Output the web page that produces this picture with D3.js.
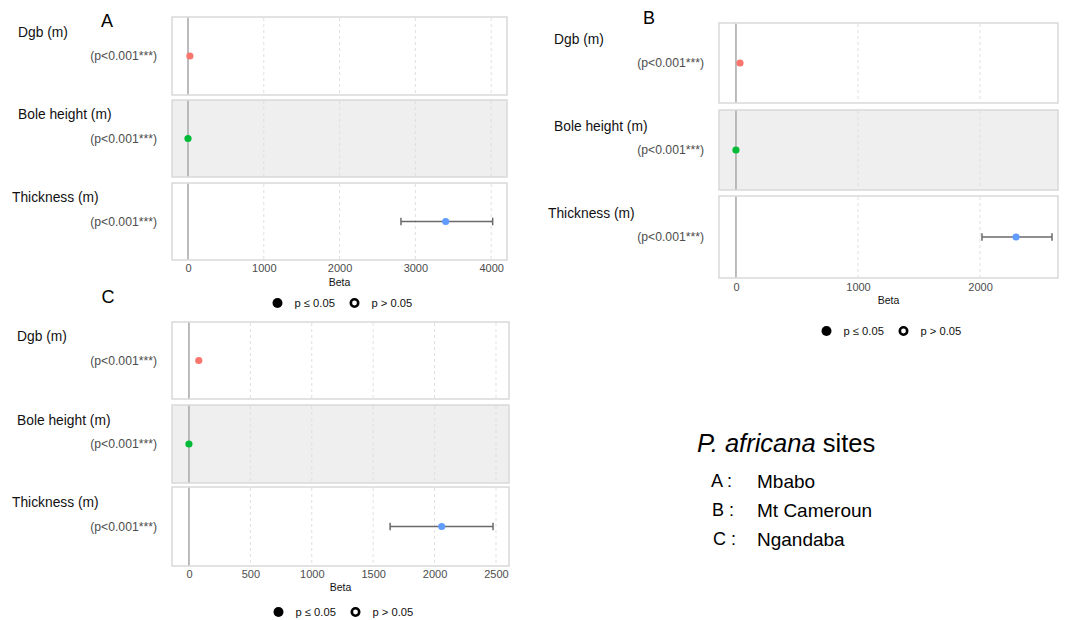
<!DOCTYPE html>
<html><head><meta charset="utf-8">
<script src="https://cdn.jsdelivr.net/npm/d3@7"></script>
<style>
body{margin:0;background:#fff;}
svg text{font-family:"Liberation Sans",Arial,sans-serif;}
</style></head><body>
<svg id="c" width="1072" height="620"></svg>
<script>
// ---- data ----
const sites = ["A", "B", "C"];
const siteNames = ["Mbabo", "Mt Cameroun", "Ngandaba"];
const variables = ["Dgb (m)", "Bole height (m)", "Thickness (m)"];
const pLabels = ["(p<0.001***)", "(p<0.001***)", "(p<0.001***)"];
const colors = ["#F8766D", "#00BA38", "#619CFF"];
// estimates and confidence limits per site
const betaA = [25, 0, 3400];
const lowA  = [15, -5, 2810];
const highA = [35, 5, 4020];
const betaB = [33, 0, 2295];
const lowB  = [20, -5, 2016];
const highB = [45, 5, 2590];
const betaC = [80, 0, 2058];
const lowC  = [66, -5, 1638];
const highC = [94, 5, 2476];
const ticksA = [0, 1000, 2000, 3000, 4000];
const ticksB = [0, 1000, 2000];
const ticksC = [0, 500, 1000, 1500, 2000, 2500];
const legendLabels = ["p \u2264 0.05", "p > 0.05"];

// ---- layout ----
const panels = [
  {site:0, beta:betaA, low:lowA, high:highA, ticks:ticksA, dom:[-211, 4209],
   x0:172, x1:507, strips:[[17,95],[100,177],[183,260]], labX:[18,18,12], tickY:268, betaY:282, legY:303, letter:[107,21]},
  {site:1, beta:betaB, low:lowB, high:highB, ticks:ticksB, dom:[-139, 2639],
   x0:719, x1:1058, strips:[[23,103],[110,190],[196,278]], labX:[554,554,548], tickY:287, betaY:300, legY:331, letter:[649,18]},
  {site:2, beta:betaC, low:lowC, high:highC, ticks:ticksC, dom:[-138, 2606],
   x0:172, x1:509, strips:[[322,399],[405,483],[487,566]], labX:[17,17,12], tickY:574, betaY:587, legY:612, letter:[108,297]}
];

const svg = d3.select("#c");

panels.forEach(p => {
  const g = svg.append("g");
  const x = d3.scaleLinear().domain(p.dom).range([p.x0, p.x1]);
  p.strips.forEach((s, i) => {
    const sg = g.append("g");
    sg.append("rect").attr("x", p.x0).attr("y", s[0]).attr("width", p.x1 - p.x0).attr("height", s[1] - s[0])
      .attr("fill", i === 1 ? "#efefef" : "#fff").attr("stroke", "#d9d9d9").attr("stroke-width", 1.5);
    // grid
    sg.selectAll("line.grid").data(p.ticks.filter(t => t !== 0)).join("line")
      .attr("x1", d => x(d)).attr("x2", d => x(d)).attr("y1", s[0] + 1).attr("y2", s[1] - 1)
      .attr("stroke", "#dcdcdc").attr("stroke-width", 0.9).attr("stroke-dasharray", "3,3");
    // zero line
    sg.append("line").attr("x1", x(0)).attr("x2", x(0)).attr("y1", s[0] + 0.7).attr("y2", s[1] - 0.7)
      .attr("stroke", "#b0b0b0").attr("stroke-width", 1.7);
    const cy = (s[0] + s[1]) / 2;
    // error bar
    const lo = p.low[i], hi = p.high[i];
    if (x(hi) - x(lo) > 6) {
      sg.append("line").attr("x1", x(lo)).attr("x2", x(hi)).attr("y1", cy).attr("y2", cy)
        .attr("stroke", "#6a6a6a").attr("stroke-width", 1.5);
      [lo, hi].forEach(v => sg.append("line").attr("x1", x(v)).attr("x2", x(v)).attr("y1", cy - 3.8).attr("y2", cy + 3.8)
        .attr("stroke", "#6a6a6a").attr("stroke-width", 1.5));
    }
    sg.append("circle").attr("cx", x(p.beta[i])).attr("cy", cy).attr("r", 3.6).attr("fill", colors[i]);
    // labels
    g.append("text").attr("x", p.labX[i]).attr("y", cy - 24).attr("dy", "0.35em")
      .attr("font-size", 13.8).attr("fill", "#111").text(variables[i]);
    g.append("text").attr("x", p.x0 - 15).attr("y", cy).attr("dy", "0.35em").attr("text-anchor", "end")
      .attr("font-size", 12.2).attr("fill", "#4d4d4d").text(pLabels[i]);
  });
  // axis
  const ax = g.append("g").attr("transform", `translate(0,${p.strips[2][1]})`)
    .call(d3.axisBottom(x).tickValues(p.ticks).tickSize(0).tickPadding(p.tickY - p.strips[2][1] - 4).tickFormat(d3.format("d")));
  ax.select(".domain").remove();
  ax.selectAll("text").attr("font-size", 11).attr("fill", "#4d4d4d").attr("font-family", "Liberation Sans, Arial, sans-serif");
  g.append("text").attr("x", (p.x0 + p.x1) / 2).attr("y", p.betaY).attr("dy", "0.35em").attr("text-anchor", "middle")
    .attr("font-size", 10.5).attr("fill", "#111").text("Beta");
  // legend
  const lc = (p.x0 + p.x1) / 2;
  const lx = [lc - 62, lc + 15];
  g.append("circle").attr("cx", lx[0]).attr("cy", p.legY).attr("r", 5).attr("fill", "#000");
  g.append("circle").attr("cx", lx[1]).attr("cy", p.legY).attr("r", 3.7).attr("fill", "#fff").attr("stroke", "#000").attr("stroke-width", 2.6);
  legendLabels.forEach((t, k) => g.append("text").attr("x", lx[k] + 17).attr("y", p.legY).attr("dy", "0.35em")
    .attr("font-size", 11.2).attr("fill", "#111").text(t));
  // letter
  g.append("text").attr("x", p.letter[0]).attr("y", p.letter[1]).attr("dy", "0.35em").attr("text-anchor", "middle")
    .attr("font-size", 18).attr("fill", "#000").text(sites[p.site]);
});

// site key
const key = svg.append("g");
const ttl = key.append("text").attr("x", 697).attr("y", 452).attr("font-size", 25.5).attr("fill", "#000");
ttl.append("tspan").attr("font-style", "italic").text("P. africana");
ttl.append("tspan").text(" sites");
const keyY = [481, 510, 539];
sites.forEach((s, i) => {
  key.append("text").attr("x", 711 + i).attr("y", keyY[i]).attr("dy", "0.35em").attr("font-size", 18).attr("fill", "#000").text(s + " :");
  key.append("text").attr("x", 757).attr("y", keyY[i]).attr("dy", "0.35em").attr("font-size", 19).attr("fill", "#000").text(siteNames[i]);
});
</script>
</body></html>
